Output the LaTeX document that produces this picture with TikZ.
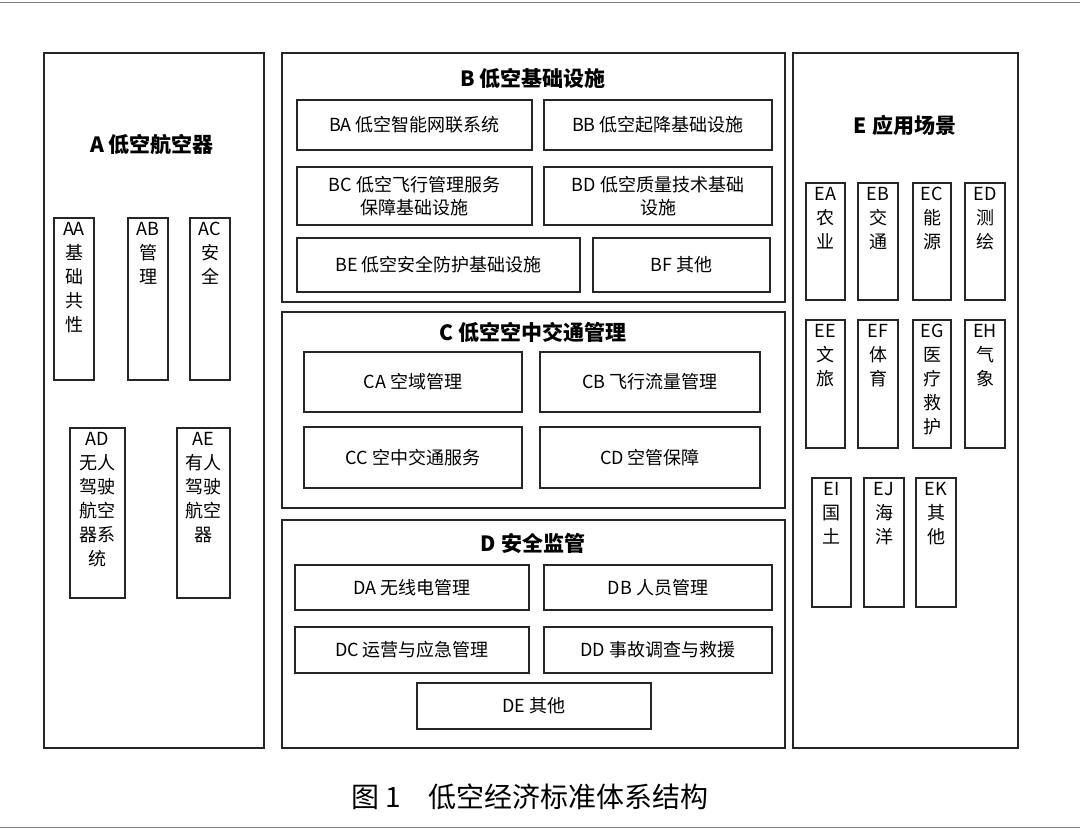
\documentclass[tikz,border=0pt]{standalone}
\usepackage{fontspec}
\setmainfont{Liberation Serif}
\newfontfamily\cjk{Noto Sans CJK SC}
\begin{document}
\begin{tikzpicture}[x=1pt,y=-1pt,
  ibox/.style={draw=black!85,line width=1.5pt,inner sep=0pt,align=center,font=\cjk\fontsize{18}{23}\selectfont},
  vtxt/.style={inner sep=0pt,align=center,anchor=north,font=\cjk\fontsize{18}{24}\selectfont},
  ttl/.style={font=\cjk\bfseries\fontsize{21}{24}\selectfont}]
\useasboundingbox (0,0) rectangle (1080,830);
\fill[white] (0,0) rectangle (1080,830);
\draw[black!50,line width=1pt] (0,2) -- (1080,2);
\draw[black!50,line width=1pt] (0,827) -- (1080,827);
\newcommand\bx[6]{\node[ibox,minimum width=#4-#2,minimum height=#5-#3] (#1) at ({(#2+#4)/2},{(#3+#5)/2}) {#6};}
\newcommand\vb[6]{\node[ibox,minimum width=#4-#2,minimum height=#5-#3] (#1) at ({(#2+#4)/2},{(#3+#5)/2}) {};
  \node[vtxt] (#1t) at ([yshift=-5pt]#1.north) {#6};}
% panels
\bx{pA}{44}{53}{264}{748}{}
\bx{pB}{282}{53}{785}{302}{}
\bx{pC}{282}{312}{785}{508}{}
\bx{pD}{282}{520}{785}{748}{}
\bx{pE}{793}{53}{1018}{748}{}
% titles
\node[ttl] (tA) at (152,145) {A\ 低空航空器};
\node[ttl] (tB) at (533,78) {B\ 低空基础设施};
\node[ttl] (tC) at (533,332) {C\ 低空空中交通管理};
\node[ttl] (tD) at (533,543) {D\ 安全监管};
\node[ttl] (tE) at (905,125) {E\ 应用场景};
% A
\vb{AA}{54}{218}{94}{380}{AA\\基\\础\\共\\性}
\vb{AB}{128}{218}{168}{380}{AB\\管\\理}
\vb{AC}{190}{218}{230}{380}{AC\\安\\全}
\vb{AD}{70}{428}{125}{598}{AD\\无人\\驾驶\\航空\\器系\\统}
\vb{AE}{177}{428}{230}{598}{AE\\有人\\驾驶\\航空\\器}
% B
\bx{BA}{297}{100}{532}{150}{BA\ 低空智能网联系统}
\bx{BB}{544}{100}{772}{150}{BB\ 低空起降基础设施}
\bx{BC}{297}{167}{532}{225}{BC\ 低空飞行管理服务\\保障基础设施}
\bx{BD}{544}{167}{772}{225}{BD\ 低空质量技术基础\\设施}
\bx{BE}{297}{238}{580}{292}{BE\ 低空安全防护基础设施}
\bx{BF}{593}{238}{770}{292}{BF\ 其他}
% C
\bx{CA}{304}{352}{522}{412}{CA\ 空域管理}
\bx{CB}{540}{352}{760}{412}{CB\ 飞行流量管理}
\bx{CC}{304}{427}{522}{488}{CC\ 空中交通服务}
\bx{CD}{540}{427}{760}{488}{CD\ 空管保障}
% D
\bx{DA}{295}{565}{529}{610}{DA\ 无线电管理}
\bx{DB}{544}{565}{772}{610}{DB\ 人员管理}
\bx{DC}{295}{627}{529}{673}{DC\ 运营与应急管理}
\bx{DD}{544}{627}{772}{673}{DD\ 事故调查与救援}
\bx{DE}{417}{683}{651}{729}{DE\ 其他}
% E
\vb{EA}{806}{183}{845}{300}{EA\\农\\业}
\vb{EB}{858}{183}{898}{300}{EB\\交\\通}
\vb{EC}{913}{183}{951}{300}{EC\\能\\源}
\vb{ED}{965}{183}{1005}{300}{ED\\测\\绘}
\vb{EE}{806}{320}{845}{448}{EE\\文\\旅}
\vb{EF}{858}{320}{898}{448}{EF\\体\\育}
\vb{EG}{913}{320}{951}{448}{EG\\医\\疗\\救\\护}
\vb{EH}{965}{320}{1005}{448}{EH\\气\\象}
\vb{EI}{812}{478}{851}{607}{EI\\国\\土}
\vb{EJ}{864}{478}{904}{607}{EJ\\海\\洋}
\vb{EK}{916}{478}{956}{607}{EK\\其\\他}
\node[font=\cjk\fontsize{28}{30}\selectfont] (cap) at (530,797) {图\ 1\quad 低空经济标准体系结构};
\end{tikzpicture}
\end{document}
